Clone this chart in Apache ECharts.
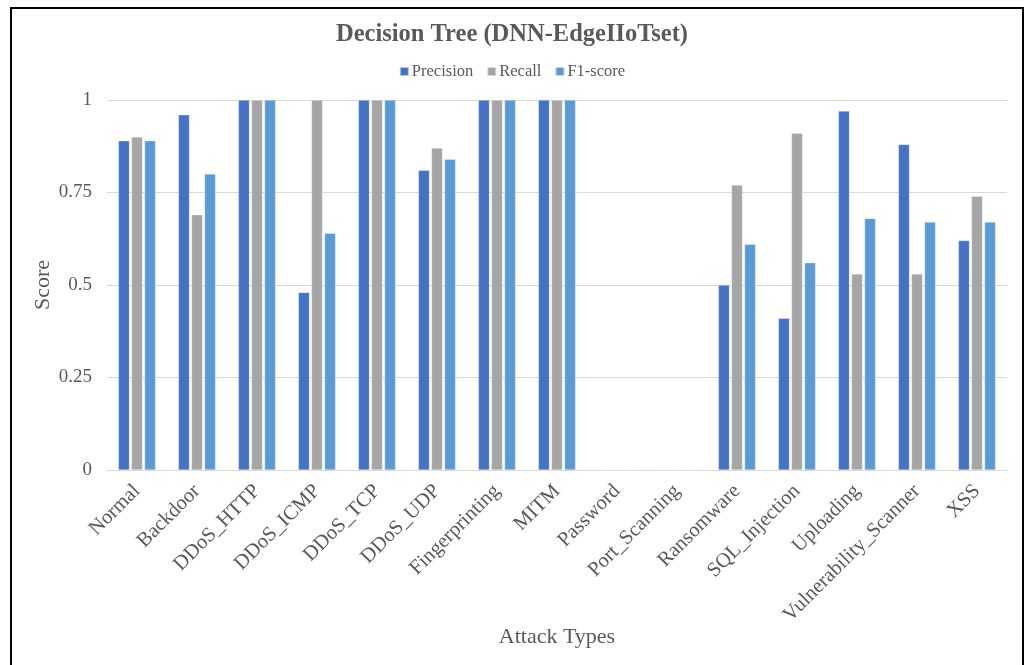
<!DOCTYPE html>
<html>
<head>
<meta charset="utf-8">
<script src="https://cdn.jsdelivr.net/npm/echarts@6/dist/echarts.min.js"></script>
<style>
html,body{margin:0;padding:0;background:#fff;}
#chart{width:1024px;height:665px;position:absolute;left:0;top:0;}
#frame{position:absolute;left:10px;top:7px;width:1010px;height:670px;border:2px solid #000;border-bottom:none;pointer-events:none;}
</style>
</head>
<body>
<div id="chart"></div>
<div id="frame"></div>
<script>
const categories = ["Normal","Backdoor","DDoS_HTTP","DDoS_ICMP","DDoS_TCP","DDoS_UDP","Fingerprinting","MITM","Password","Port_Scanning","Ransomware","SQL_Injection","Uploading","Vulnerability_Scanner","XSS"];
const precision = [0.89,0.96,1,0.48,1,0.81,1,1,0,0,0.50,0.41,0.97,0.88,0.62];
const recall    = [0.90,0.69,1,1,1,0.87,1,1,0,0,0.77,0.91,0.53,0.53,0.74];
const f1score   = [0.89,0.80,1,0.64,1,0.84,1,1,0,0,0.61,0.56,0.68,0.67,0.67];
const yTicks = [0,0.25,0.5,0.75,1];

const font = '"Liberation Serif","Times New Roman",serif';
const txt = '#595959';
const chart = echarts.init(document.getElementById('chart'));
const mk = (name, data, color) => ({
  name, type:'bar', data, barGap:'18%', barCategoryGap:'38%',
  itemStyle:{color, borderColor:'rgba(255,255,255,0.6)', borderWidth:0.5}
});
chart.setOption({
  animation:false,
  textStyle:{fontFamily:font},
  title:{text:'Decision Tree (DNN-EdgeIIoTset)', left:'center', top:17,
    textStyle:{fontFamily:font, fontSize:24.5, fontWeight:'bold', color:txt}},
  legend:{top:58, left:'center', itemWidth:9, itemHeight:9, itemGap:13, icon:'rect',
    textStyle:{fontFamily:font, fontSize:16.5, color:txt, padding:[0,0,0,-2]}},
  grid:{left:107, right:17, top:100, bottom:195},
  xAxis:{type:'category', data:categories,
    name:'Attack Types', nameLocation:'middle', nameGap:156, nameMoveOverlap:false,
    nameTextStyle:{fontFamily:font, fontSize:22, color:txt},
    axisLine:{lineStyle:{color:'#d9d9d9', width:1}},
    axisTick:{show:false},
    axisLabel:{rotate:45, interval:0, fontFamily:font, fontSize:20.5, color:txt, margin:18}},
  yAxis:{type:'value', min:0, max:1, interval:0.25,
    name:'Score', nameLocation:'middle', nameGap:53, nameMoveOverlap:false,
    nameTextStyle:{fontFamily:font, fontSize:22, color:txt},
    axisLabel:{fontFamily:font, fontSize:19, color:txt, margin:15,
      formatter:v => { const t = yTicks.find(x => Math.abs(x - v) < 1e-9); return t === undefined ? '' : String(t); }},
    splitLine:{lineStyle:{color:'#d9d9d9', width:1}},
    axisLine:{show:false}, axisTick:{show:false}},
  series:[
    mk('Precision', precision, '#4472C4'),
    mk('Recall', recall, '#A5A5A5'),
    mk('F1-score', f1score, '#5B9BD5')
  ]
});
</script>
</body>
</html>
